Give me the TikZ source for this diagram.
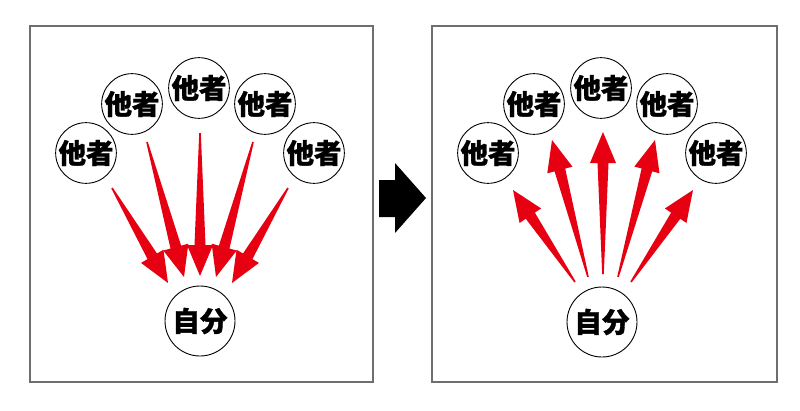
\documentclass[tikz,border=0pt]{standalone}
\usepackage{fontspec}
\newfontfamily\cjk{Noto Sans CJK JP}[BoldFeatures={FakeBold=1.2}]
\usetikzlibrary{calc}
\definecolor{arrred}{RGB}{230,0,18}
\definecolor{framegray}{RGB}{110,110,110}
\tikzset{
  other/.style={circle,draw=black,line width=0.9pt,fill=white,minimum size=59pt,inner sep=0pt,font=\cjk\bfseries\fontsize{27.5}{27.5}\selectfont},
  self/.style={circle,draw=black,line width=0.9pt,fill=white,minimum size=70pt,inner sep=0pt,font=\cjk\bfseries\fontsize{27.5}{27.5}\selectfont},
  panel/.style={draw=framegray,line width=1.4pt},
  redarr/.style={fill=arrred,draw=none}
}
\newcommand{\redarrow}[2]{%
  \coordinate (hb) at ($(#2)!31pt!(#1)$);
  \fill[redarr] ($(#1)!0.8pt!90:(#2)$) -- ($(hb)!5.5pt!90:(#2)$) -- ($(hb)!13pt!90:(#2)$)
    -- (#2) -- ($(hb)!13pt!-90:(#2)$) -- ($(hb)!5.5pt!-90:(#2)$) -- ($(#1)!0.8pt!-90:(#2)$) -- cycle;
}
\begin{document}
\begin{tikzpicture}[x=1pt,y=-1pt]
\useasboundingbox (0,0) rectangle (800,410);
\fill[white] (0,0) rectangle (800,410);
% panels
\draw[panel] (30,26) rectangle (373,382);
\draw[panel] (432,26) rectangle (777,382);
% black arrow
\fill[black] (379,180) -- (395,180) -- (395,163) -- (426,198) -- (395,233) -- (395,217) -- (379,217) -- cycle;
% left panel
\node[other] (o1) at (86,153) {他者};
\node[other] (o2) at (132,104) {他者};
\node[other] (o3) at (199,88) {他者};
\node[other] (o4) at (265,104) {他者};
\node[other] (o5) at (314,153) {他者};
\node[self] (s) at (200,321) {自分};
\coordinate (la1) at (112,188); \coordinate (lb1) at (168,283);
\coordinate (la2) at (147,142); \coordinate (lb2) at (184,277);
\coordinate (la3) at (200,133); \coordinate (lb3) at (200,276);
\coordinate (la4) at (253,142); \coordinate (lb4) at (216,277);
\coordinate (la5) at (288,188); \coordinate (lb5) at (232,283);
\foreach \i in {1,...,5}{\redarrow{la\i}{lb\i}}
% right panel
\node[other] (p1) at (488,153) {他者};
\node[other] (p2) at (534,104) {他者};
\node[other] (p3) at (601,88) {他者};
\node[other] (p4) at (667,104) {他者};
\node[other] (p5) at (716,153) {他者};
\node[self] (t) at (602,322) {自分};
\coordinate (ra1) at (575,282); \coordinate (rb1) at (513,190);
\coordinate (ra2) at (588,277); \coordinate (rb2) at (552,140);
\coordinate (ra3) at (603,274); \coordinate (rb3) at (603,132);
\coordinate (ra4) at (618,277); \coordinate (rb4) at (655,140);
\coordinate (ra5) at (631,282); \coordinate (rb5) at (693,190);
\foreach \i in {1,...,5}{\redarrow{ra\i}{rb\i}}
\end{tikzpicture}
\end{document}
